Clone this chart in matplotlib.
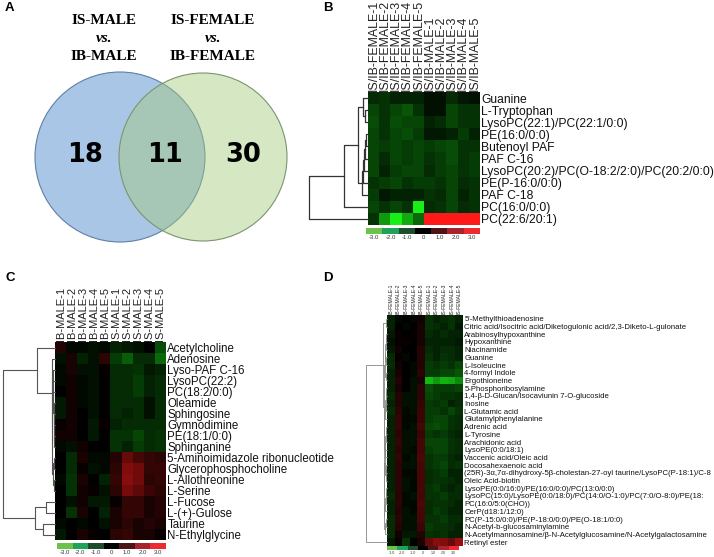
import numpy as np
import matplotlib
matplotlib.use('Agg')
import matplotlib.pyplot as plt
from matplotlib.colors import LinearSegmentedColormap, ListedColormap
from matplotlib.patches import Circle

# ---------------- data ----------------
venn_titles = [["IS-MALE", "vs.", "IB-MALE"], ["IS-FEMALE", "vs.", "IB-FEMALE"]]
venn_counts = [18, 11, 30]  # male only, shared, female only

b_cols = ["IS/IB-FEMALE-1", "IS/IB-FEMALE-2", "IS/IB-FEMALE-3", "IS/IB-FEMALE-4", "IS/IB-FEMALE-5",
          "IS/IB-MALE-1", "IS/IB-MALE-2", "IS/IB-MALE-3", "IS/IB-MALE-4", "IS/IB-MALE-5"]
b_rows = ["Guanine", "L-Tryptophan", "LysoPC(22:1)/PC(22:1/0:0)", "PE(16:0/0:0)", "Butenoyl PAF",
          "PAF C-16", "LysoPC(20:2)/PC(O-18:2/2:0)/PC(20:2/0:0)", "PE(P-16:0/0:0)", "PAF C-18",
          "PC(16:0/0:0)", "PC(22:6/20:1)"]
b_vals = [
    [-0.5, -0.6, -0.4, -0.4, -0.4, -0.2, -0.2, -0.5, -0.3, -0.2],
    [-0.8, -0.6, -0.8, -1.0, -0.6, -0.2, -0.2, -0.8, -0.6, -0.6],
    [-0.9, -0.6, -0.9, -0.8, -0.8, -0.4, -0.5, -0.8, -0.6, -0.6],
    [-0.8, -0.6, -0.8, -0.9, -0.7, -0.3, -0.3, -0.4, -0.7, -0.4],
    [-0.8, -0.7, -0.8, -0.7, -0.8, -0.7, -0.8, -0.9, -0.6, -0.6],
    [-0.8, -0.5, -0.8, -0.7, -0.8, -0.6, -0.7, -0.9, -0.6, -0.7],
    [-0.8, -0.4, -0.7, -0.8, -0.8, -0.5, -0.7, -0.8, -0.6, -0.7],
    [-0.6, -0.7, -0.8, -0.6, -0.7, -0.7, -0.6, -0.8, -0.5, -0.6],
    [-0.7, -0.3, -0.4, -0.4, -0.4, -0.6, -0.5, -0.8, -0.4, -0.6],
    [-0.8, -0.6, -0.8, -0.6, -2.8, -0.5, -0.6, -0.8, -0.5, -0.6],
    [-0.6, -1.8, -2.8, -2.0, -1.2, 3.0, 3.0, 3.0, 3.0, 3.0],
]
# linkage: (left, right, height); ids >= n refer to earlier merges
b_links = [(1, 2, 3), (0, 11, 5), (3, 4, 2), (13, 5, 3), (14, 6, 4), (15, 7, 5),
           (16, 8, 6), (12, 17, 10), (18, 9, 24), (19, 10, 59)]

c_cols = ["IB-MALE-1", "IB-MALE-2", "IB-MALE-3", "IB-MALE-4", "IB-MALE-5",
          "IS-MALE-1", "IS-MALE-2", "IS-MALE-3", "IS-MALE-4", "IS-MALE-5"]
c_rows = ["Acetylcholine", "Adenosine", "Lyso-PAF C-16", "LysoPC(22:2)", "PC(18:2/0:0)", "Oleamide",
          "Sphingosine", "Gymnodimine", "PE(18:1/0:0)", "Sphinganine",
          "5-Aminoimidazole ribonucleotide", "Glycerophosphocholine", "L-Allothreonine", "L-Serine",
          "L-Fucose", "L-(+)-Gulose", "Taurine", "N-Ethylglycine"]
c_vals = [
    [0.4, -0.1, -0.1, -0.2, -0.1, -0.4, -0.3, -0.2, 0.0, -0.9],
    [-0.2, 0.3, -0.4, -0.2, 0.5, -0.7, -1.1, -0.5, -0.5, -1.2],
    [-0.1, 0.3, -0.2, -0.2, 0.1, -0.5, -0.5, -0.6, -0.3, -0.4],
    [-0.1, 0.2, -0.1, -0.2, 0.0, -0.5, -0.5, -0.7, -0.4, -0.5],
    [0.0, 0.2, -0.1, -0.2, 0.0, -0.5, -0.5, -0.7, -0.4, -0.5],
    [-0.3, 0.2, -0.1, -0.2, 0.0, -0.5, -0.5, -0.5, -0.2, -0.5],
    [-0.3, 0.2, 0.0, -0.2, 0.0, -0.5, -0.4, -0.5, -0.2, -0.5],
    [0.1, 0.2, 0.0, -0.3, 0.1, -0.4, -0.5, -0.5, -0.5, -0.5],
    [0.2, 0.2, 0.0, -0.3, 0.0, -0.6, -0.6, -0.8, -0.5, -0.6],
    [-0.1, -0.2, 0.2, 0.0, 0.0, -0.6, -0.4, -0.7, -0.5, -0.6],
    [0.0, -0.5, 0.3, -0.1, -0.1, 0.4, 1.2, 0.8, 0.6, 0.5],
    [0.0, -0.5, 0.1, -0.2, -0.1, 0.5, 1.5, 1.3, 0.6, 0.6],
    [-0.1, -0.6, 0.3, 0.0, -0.4, 0.6, 1.6, 1.3, 0.5, 0.6],
    [0.0, -0.6, 0.2, 0.1, -0.2, 0.5, 1.4, 1.1, 0.7, 0.5],
    [0.0, -0.2, 0.2, -0.3, -0.3, 0.1, 0.6, 0.6, 0.3, 0.4],
    [0.0, -0.6, 0.3, 0.0, -0.4, 0.3, 0.6, 0.6, 0.3, 0.4],
    [-0.1, 0.0, -0.1, 0.0, -0.2, 0.3, 0.5, 0.3, 0.4, 0.3],
    [-0.3, 0.0, 0.3, 0.1, 0.0, 0.5, 0.6, 0.3, 0.3, 0.1],
]
c_links = [(8, 9, 0.6), (7, 18, 0.9), (6, 19, 1.2), (5, 20, 1.5), (4, 21, 1.7), (3, 22, 1.9),
           (2, 23, 2.1), (10, 11, 0.8), (12, 13, 0.9), (25, 26, 1.6), (24, 27, 2.6),
           (1, 28, 3.2), (0, 29, 18), (14, 15, 9), (16, 17, 12), (31, 32, 20), (30, 33, 52)]

d_cols = ["IB-FEMALE-1", "IB-FEMALE-2", "IB-FEMALE-3", "IB-FEMALE-4", "IB-FEMALE-5",
          "IS-FEMALE-1", "IS-FEMALE-2", "IS-FEMALE-3", "IS-FEMALE-4", "IS-FEMALE-5"]
d_rows = ["5'-Methylthioadenosine",
          "Citric acid/Isocitric acid/Diketogulonic acid/2,3-Diketo-L-gulonate",
          "Arabinosylhypoxanthine", "Hypoxanthine", "Niacinamide", "Guanine", "L-Isoleucine",
          "4-formyl Indole", "Ergothioneine", "5-Phosphoribosylamine",
          "1,4-β-D-Glucan/Isocaviunin 7-O-glucoside", "Inosine", "L-Glutamic acid",
          "Glutamylphenylalanine", "Adrenic acid", "L-Tyrosine", "Arachidonic acid",
          "LysoPE(0:0/18:1)", "Vaccenic acid/Oleic acid", "Docosahexaenoic acid",
          "(25R)-3α,7α-dihydroxy-5β-cholestan-27-oyl taurine/LysoPC(P-18:1)/C-8",
          "Oleic Acid-biotin", "LysoPE(0:0/16:0)/PE(16:0/0:0)/PC(13:0/0:0)",
          "LysoPC(15:0)/LysoPE(0:0/18:0)/PC(14:0/O-1:0)/PC(7:0/O-8:0)/PE(18:",
          "PC(16:0/5:0(CHO))", "CerP(d18:1/12:0)",
          "PC(P-15:0/0:0)/PE(P-18:0/0:0)/PE(O-18:1/0:0)", "N-Acetyl-b-glucosaminylamine",
          "N-Acetylmannosamine/β-N-Acetylglucosamine/N-Acetylgalactosamine", "Retinyl ester"]
d_vals = [
    [-0.4, -0.1, 0.0, -0.1, 0.2, -0.6, -0.4, -0.5, -0.6, -0.4],
    [-0.4, 0.0, -0.1, 0.0, 0.3, -0.6, -0.5, -0.4, -0.6, -0.3],
    [-0.3, 0.1, 0.0, 0.1, 0.3, -0.5, -0.4, -0.5, -0.4, -0.4],
    [-0.2, 0.1, 0.1, 0.0, 0.3, -0.4, -0.4, -0.4, -0.4, -0.3],
    [-0.3, 0.2, 0.0, 0.0, 0.4, -0.5, -0.4, -0.5, -0.5, -0.4],
    [-0.5, 0.1, -0.1, 0.0, 0.4, -0.6, -0.4, -0.6, -0.5, -0.4],
    [-0.5, 0.2, 0.0, -0.1, 0.4, -0.7, -0.6, -0.7, -0.6, -0.8],
    [-0.4, 0.3, 0.0, -0.1, 0.5, -0.7, -0.7, -0.8, -0.8, -1.0],
    [-0.4, 0.4, 0.0, -0.2, 0.3, -2.2, -1.8, -2.1, -2.0, -1.6],
    [-0.4, 0.3, 0.0, -0.2, 0.5, -0.9, -0.7, -0.7, -0.7, -0.8],
    [-0.5, 0.4, -0.2, -0.2, 0.5, -0.8, -0.7, -0.6, -0.6, -0.5],
    [-0.4, 0.4, -0.2, -0.2, 0.6, -0.7, -0.6, -0.7, -0.4, -0.5],
    [-0.5, 0.5, -0.1, -0.2, 0.7, -0.7, -0.7, -0.6, -0.8, -0.6],
    [-0.4, 0.6, -0.1, -0.1, 0.7, -0.7, -0.8, -0.8, -0.6, -0.5],
    [-0.4, 0.6, -0.1, -0.2, 0.8, -0.8, -0.9, -0.8, -0.6, -0.5],
    [-0.4, 0.5, -0.2, -0.2, 0.7, -0.7, -0.6, -0.7, -0.5, -0.4],
    [-0.4, 0.6, -0.2, -0.2, 0.8, -0.8, -0.8, -0.8, -0.6, -0.5],
    [-0.4, 0.5, -0.2, -0.1, 0.8, -0.7, -0.8, -0.8, -0.6, -0.5],
    [-0.4, 0.6, -0.1, -0.2, 0.9, -0.6, -0.7, -0.7, -0.5, -0.4],
    [-0.4, 0.5, -0.2, -0.2, 0.8, -0.6, -0.7, -0.8, -0.5, -0.6],
    [-0.4, 0.5, -0.1, -0.1, 0.8, -0.5, -0.6, -0.7, -0.4, -0.4],
    [-0.4, 0.5, -0.2, -0.1, 0.8, -0.5, -0.6, -0.6, -0.5, -0.4],
    [-0.4, 0.5, -0.2, -0.1, 0.8, -0.6, -0.7, -0.5, -0.4, -0.5],
    [-0.5, 0.5, -0.1, -0.2, 0.8, -0.6, -0.6, -0.7, -0.5, -0.5],
    [-0.4, 0.5, -0.1, -0.1, 0.9, -0.5, -0.6, -0.6, -0.5, -0.4],
    [-0.4, 0.4, -0.2, -0.1, 0.8, -0.5, -0.7, -0.6, -0.4, -0.4],
    [-0.5, 0.5, -0.2, -0.2, 0.8, -0.6, -0.6, -0.7, -0.5, -0.5],
    [-0.5, 0.4, -0.2, -0.2, 0.7, -0.7, -0.6, -0.6, -0.5, -0.4],
    [-0.5, 0.2, -0.3, -0.3, 0.4, -0.6, -0.5, -0.6, -0.4, -0.4],
    [-0.3, 0.1, -0.6, 0.0, 0.3, 1.2, 1.6, 1.5, 1.2, 1.8],
]
d_links = [(0, 1, 1.5), (2, 3, 1.0), (31, 4, 1.5), (5, 6, 1.0), (32, 33, 2.0), (7, 8, 1.5),
           (34, 35, 2.5), (9, 10, 1.0), (11, 12, 1.0), (37, 38, 1.5), (39, 13, 2.0),
           (14, 15, 0.8), (41, 16, 1.2), (42, 17, 1.6), (43, 18, 2.0), (19, 20, 1.0),
           (45, 21, 1.5), (44, 46, 2.4), (22, 23, 1.0), (48, 24, 1.5), (49, 25, 2.0),
           (26, 27, 1.2), (51, 28, 2.2), (50, 52, 2.8), (47, 53, 3.0), (40, 54, 3.2),
           (36, 55, 3.5), (30, 56, 4.0), (57, 29, 21)]

cbar_vals = [-3, -2, -1, 0, 1, 2, 3]
cbar_labels = ["-3.0", "-2.0", "-1.0", "0", "1.0", "2.0", "3.0"]
cbar_colors = ['#6CC24A', '#1FA35B', '#1E4D2B', '#000000', '#4D1515', '#A8232B', '#EC2A2F']

# ---------------- figure ----------------
W, H = 714, 557
fig = plt.figure(figsize=(W / 100, H / 100), dpi=100)
SANS = ['Liberation Sans', 'DejaVu Sans']
cmap = LinearSegmentedColormap.from_list('gbr', [(0.1, 1.0, 0.1), (0, 0, 0), (1.0, 0.1, 0.1)])


def px_axes(x0, y0, x1, y1):
    return fig.add_axes([x0 / W, 1 - y1 / H, (x1 - x0) / W, (y1 - y0) / H])


# panel letters
for lab, (x, y) in zip("ABCD", [(5, 8), (323, 8), (5, 278), (323, 278)]):
    fig.text(x / W, 1 - y / H, lab, fontsize=9.5, fontweight='bold', family=SANS,
             ha='left', va='center')

# ---------------- A: Venn ----------------
ax = px_axes(0, 0, 320, 280)
ax.set_xlim(0, 320)
ax.set_ylim(280, 0)
ax.axis('off')
ax.add_patch(Circle((120, 157), 85, facecolor='#A9C6E7', edgecolor='#5E7FA6', lw=0.8, zorder=1))
ax.add_patch(Circle((203, 157), 84, facecolor='#A4CA7A', alpha=0.45, edgecolor='none', zorder=2))
ax.add_patch(Circle((203, 157), 84, facecolor='none', edgecolor='#7C9470', lw=0.8, zorder=3))
for xc, lines in zip([104, 213], venn_titles):
    for i, t in enumerate(lines):
        ax.text(xc, 21 + i * 18, t, ha='center', va='center', fontsize=11,
                family=['Liberation Serif', 'DejaVu Serif'],
                fontweight='bold', style='italic' if t == 'vs.' else 'normal')
for xc, n in zip([85, 165, 243], venn_counts):
    ax.text(xc, 155, str(n), ha='center', va='center', fontsize=18.5, fontweight='bold',
            family='DejaVu Sans', zorder=5)


# ---------------- helpers ----------------
def heatmap(box, vals, rows, cols, rfs, cfs):
    ax = px_axes(*box)
    ax.imshow(np.array(vals), cmap=cmap, vmin=-3, vmax=3, aspect='auto', interpolation='nearest')
    ax.set_xticks(range(len(cols)))
    ax.set_xticklabels(cols, rotation=90, fontsize=cfs, family=SANS, color='#222222')
    ax.xaxis.tick_top()
    ax.set_yticks(range(len(rows)))
    ax.set_yticklabels(rows, fontsize=rfs, family=SANS, color='#111111')
    ax.yaxis.tick_right()
    ax.tick_params(length=0, pad=1)
    for s in ax.spines.values():
        s.set_visible(False)
    return ax


def dendro(box, links, n, color, lw):
    ax = px_axes(*box)
    pos = {i: (float(i), 0.0) for i in range(n)}
    maxh = 0
    for k, (a, b, h) in enumerate(links):
        ya, ha = pos[a]
        yb, hb = pos[b]
        ax.plot([ha, h, h, hb], [ya, ya, yb, yb], color=color, lw=lw, clip_on=False)
        pos[n + k] = ((ya + yb) / 2.0, h)
        maxh = max(maxh, h)
    ax.set_ylim(n - 0.5, -0.5)
    ax.set_xlim(maxh, 0)
    ax.axis('off')


def colorbar(box, fs):
    ax = px_axes(*box)
    ax.imshow(np.array([cbar_vals]), cmap=ListedColormap(cbar_colors), vmin=-3.5, vmax=3.5,
              aspect='auto', interpolation='nearest')
    ax.set_yticks([])
    ax.set_xticks(range(len(cbar_vals)))
    ax.set_xticklabels(cbar_labels, fontsize=fs, family=SANS, color='#333333')
    ax.tick_params(length=0, pad=1)
    for s in ax.spines.values():
        s.set_visible(False)


# ---------------- B ----------------
heatmap((368, 92, 480, 225), b_vals, b_rows, b_cols, 8.7, 8.9)
dendro((309, 92, 368, 225), b_links, len(b_rows), '#333333', 0.9)
colorbar((366, 228, 480, 234), 4.3)

# ---------------- C ----------------
heatmap((55, 342, 166, 540), c_vals, c_rows, c_cols, 8.3, 8.0)
dendro((3, 342, 55, 540), c_links, len(c_rows), '#555555', 0.8)
colorbar((57, 543, 166, 549), 4.3)

# ---------------- D ----------------
heatmap((387, 315, 463, 546), d_vals, d_rows, d_cols, 5.6, 3.6)
dendro((366, 315, 387, 546), d_links, len(d_rows), '#888888', 0.6)
colorbar((387, 546, 459, 550), 2.6)

fig.savefig('out.png', dpi=100)
